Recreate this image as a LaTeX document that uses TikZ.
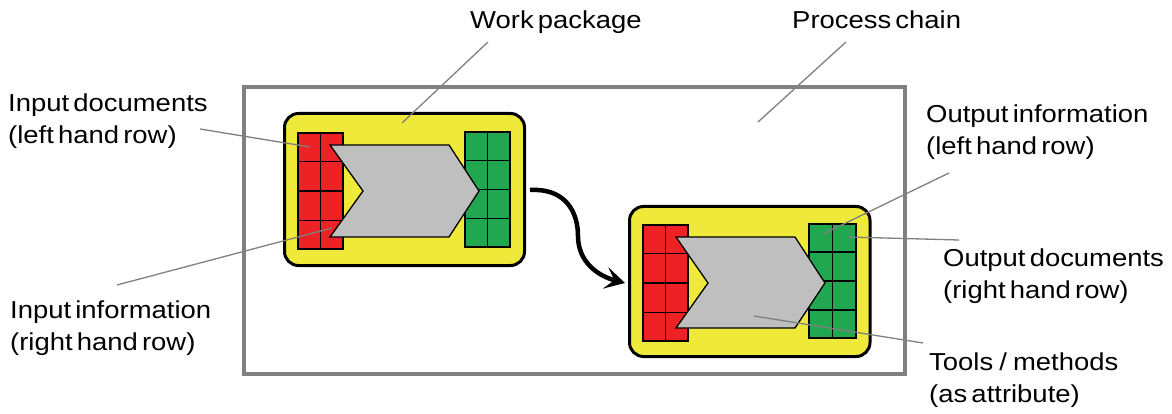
\documentclass[tikz,border=0pt]{standalone}
\usepackage{fontspec}
\setmainfont{Liberation Sans}[FakeStretch=1.12,WordSpace=0.55]
\usetikzlibrary{arrows.meta,calc}
\definecolor{wpyellow}{RGB}{239,233,58}
\definecolor{docred}{RGB}{238,34,36}
\definecolor{docgreen}{RGB}{34,167,81}
\definecolor{chevgray}{RGB}{191,191,191}
\definecolor{framegray}{RGB}{128,128,128}
\definecolor{leadgray}{RGB}{128,128,128}
\newcommand\gridlines[1]{%
  \draw[cellgrid] (#1.north) -- (#1.south);
  \foreach \f in {0.25,0.5,0.75}
    \draw[cellgrid] ($(#1.north west)!\f!(#1.south west)$) -- ($(#1.north east)!\f!(#1.south east)$);
}
\begin{document}
\begin{tikzpicture}[x=1pt,y=-1pt,
  lbl/.style={font=\fontsize{24.5pt}{32pt}\selectfont, inner sep=0pt, anchor=base west, align=left},
  chainbox/.style={draw=framegray, line width=4pt, minimum width=661pt, minimum height=287pt, inner sep=0pt},
  wpbox/.style={draw=black, fill=wpyellow, line width=3pt, rounded corners=14pt, inner sep=0pt},
  docbox/.style={draw=black, line width=1.6pt, inner sep=0pt, minimum width=45pt},
  cellgrid/.style={draw=black, line width=1.6pt},
  chev/.style={draw=black, fill=chevgray, line width=1.3pt, line join=miter},
  leader/.style={draw=leadgray, line width=1.3pt},
  flow/.style={draw=black, line width=4.5pt, -{Stealth[length=20pt,width=22pt,inset=9pt]}}
]
\useasboundingbox (0,0) rectangle (1172,414);

% process chain frame
\node[chainbox] (pc) at (574.5,230.5) {};

% work package 1
\node[wpbox, minimum width=240pt, minimum height=152pt] (wp1) at (404.5,189.5) {};
\node[docbox, fill=docred, minimum height=116pt] (r1) at (320.5,191) {};
\gridlines{r1}
\node[docbox, fill=docgreen, minimum height=115pt] (g1) at (487.5,189.5) {};
\gridlines{g1}
\draw[chev] (330,145) -- (449,145) -- (479,191) -- (449,237) -- (330,237) -- (363,191) -- cycle;

% work package 2
\node[wpbox, minimum width=240.5pt, minimum height=150pt] (wp2) at (749.75,281.5) {};
\node[docbox, fill=docred, minimum height=116pt] (r2) at (665.5,283) {};
\gridlines{r2}
\node[docbox, fill=docgreen, minimum width=47pt, minimum height=114pt] (g2) at (832.5,281) {};
\gridlines{g2}
\draw[chev] (676,237) -- (795,237) -- (825,283) -- (795,328) -- (676,328) -- (708,283) -- cycle;

% flow arrow
\coordinate (fs) at ($(wp1.east)+(4,0.5)$);
\coordinate (fe) at ($(wp2.west)+(-3,1.5)$);
\draw[flow] (fs) .. controls +(38,-2) and +(0,-21) .. (578,236) .. controls +(0,26) and +(-27,-7) .. (fe);

% labels (multi-line nodes: anchor at baseline of last line)
\node[lbl] (twp) at (470,29) {Work package};
\node[lbl] (tpc) at (792,29) {Process chain};
\node[lbl] (tid) at (8,144) {Input documents\\(left hand row)};
\node[lbl] (tii) at (10,350) {Input information\\(right hand row)};
\node[lbl] (toi) at (926,155) {Output information\\(left hand row)};
\node[lbl] (tod) at (943,298) {Output documents\\(right hand row)};
\node[lbl] (ttm) at (929,402) {Tools\hspace{0.25em}/\hspace{0.25em}methods\\(as attribute)};

% leader end points
\coordinate (lwp0) at (488,42);   \coordinate (lwp1) at (402,123);
\coordinate (lpc0) at (846,42);   \coordinate (lpc1) at (758,122);
\coordinate (lid0) at (200,129);  \coordinate (lid1) at (310,147);
\coordinate (lii0) at (117,285);  \coordinate (lii1) at (332,228);
\coordinate (loi0) at (949,173);  \coordinate (loi1) at (823,234);
\coordinate (lod0) at (959,240);  \coordinate (lod1) at (848,237);
\coordinate (ltm0) at (923,343);  \coordinate (ltm1) at (754,316);
\draw[leader] (lwp0) -- (lwp1);
\draw[leader] (lpc0) -- (lpc1);
\draw[leader] (lid0) -- (lid1);
\draw[leader] (lii0) -- (lii1);
\draw[leader] (loi0) -- (loi1);
\draw[leader] (lod0) -- (lod1);
\draw[leader] (ltm0) -- (ltm1);
\end{tikzpicture}
\end{document}
